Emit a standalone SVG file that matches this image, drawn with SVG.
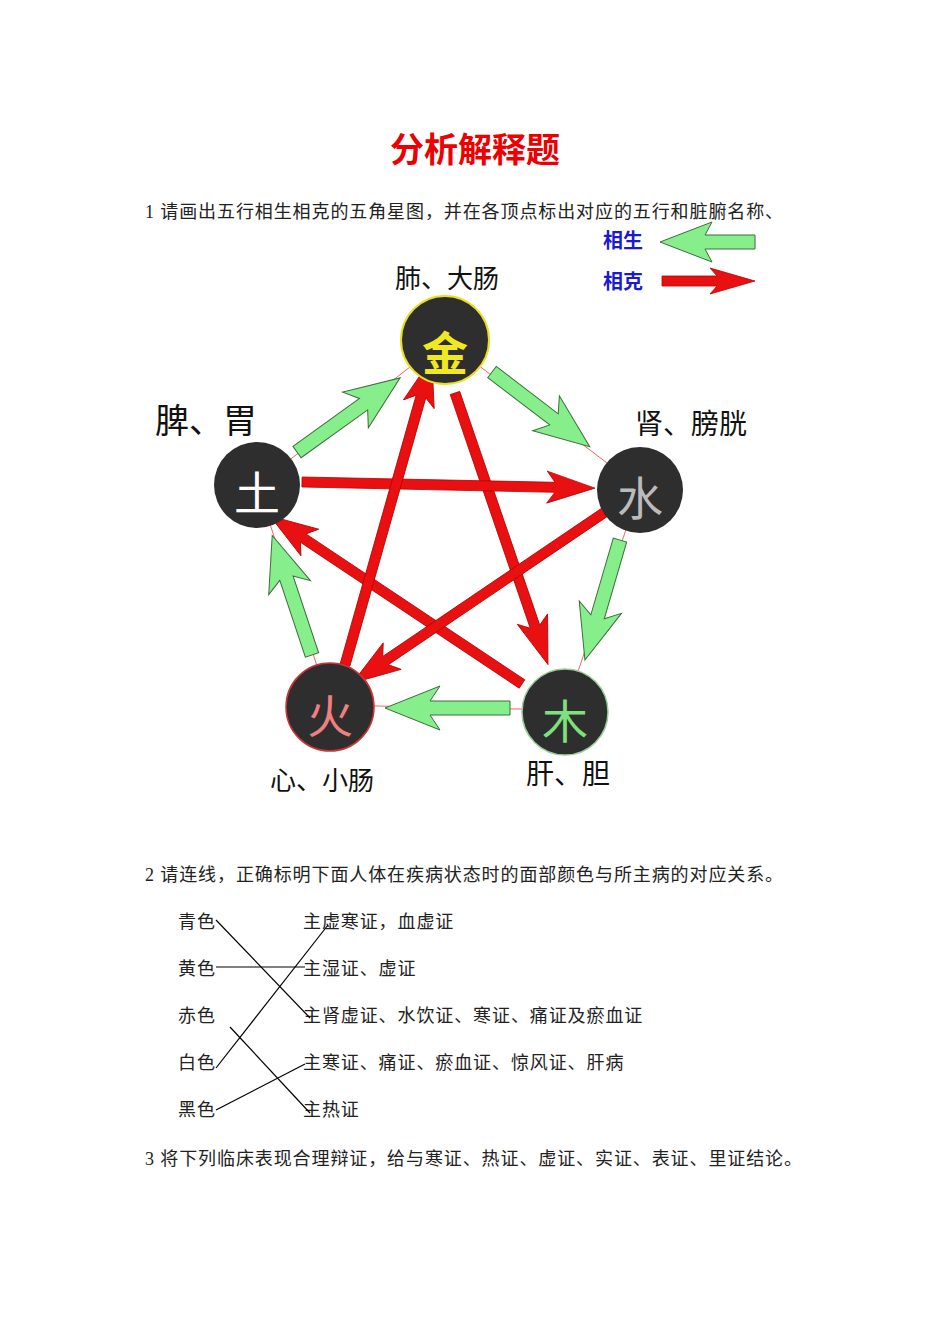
<svg xmlns="http://www.w3.org/2000/svg" width="950" height="1344" viewBox="0 0 950 1344">
<style>
.t{font-family:"Liberation Serif","Noto Sans CJK SC",serif;font-size:18px;letter-spacing:0.9px;fill:#222}
.lab{font-family:"Noto Sans CJK SC",sans-serif;fill:#111;text-anchor:middle}
.el{font-family:"Noto Sans CJK SC",sans-serif;text-anchor:middle;font-size:46px}
.g{fill:#86ef8c;stroke:#3a6e3a;stroke-width:1}
.r{fill:#e81010;stroke:#b00;stroke-width:0.8}
.ln{stroke:#000;stroke-width:1.2;fill:none}
</style>
<rect width="950" height="1344" fill="#fff"/>
<text x="475" y="162" text-anchor="middle" style="font-family:'Liberation Serif','Noto Sans CJK SC',serif;font-size:34px;font-weight:bold;fill:#e00">分析解释题</text>
<text class="t" x="145" y="218">1 请画出五行相生相克的五角星图，并在各顶点标出对应的五行和脏腑名称、</text>
<g id="legend">
<text x="603" y="248" style="font-family:'Noto Sans CJK SC',sans-serif;font-size:20px;font-weight:bold;fill:#1a1ad0">相生</text>
<polygon class="g" transform="translate(755,242) rotate(180)" points="0,-7 50,-7 43,-20 95,0 43,20 50,7 0,7"/>
<text x="603" y="289" style="font-family:'Noto Sans CJK SC',sans-serif;font-size:20px;font-weight:bold;fill:#1a1ad0">相克</text>
<polygon class="r" transform="translate(662,281)" points="0,-5 55,-5 48,-13 93,0 48,13 55,5 0,5"/>
</g>
<polygon points="445,340 640,488 565,710 330,705 257,485" fill="none" stroke="#e66" stroke-width="1"/>
<g id="connectors">
<polygon class="g" transform="translate(297,452) rotate(-35.7)" points="0,-7 82,-7 72,-22 127,0 72,22 82,7 0,7"/>
<polygon class="g" transform="translate(492,372) rotate(37.4)" points="0,-7 78,-7 68,-22 123,0 68,22 78,7 0,7"/>
<polygon class="g" transform="translate(620,540) rotate(106.3)" points="0,-7 80,-7 70,-22 125,0 70,22 80,7 0,7"/>
<polygon class="g" transform="translate(510,708) rotate(180)" points="0,-7 80,-7 70,-22 125,0 70,22 80,7 0,7"/>
<polygon class="g" transform="translate(312,655) rotate(251.6)" points="0,-7 81,-7 71,-22 126,0 71,22 81,7 0,7"/>
<polygon class="r" transform="translate(455,393) rotate(71.1)" points="0,-5 247,-5 239,-16 287,0 239,16 247,5 0,5"/>
<polygon class="r" transform="translate(522,684) rotate(213.7)" points="0,-5 263,-5 255,-16 303,0 255,16 263,5 0,5"/>
<polygon class="r" transform="translate(302,482) rotate(1.2)" points="0,-5 253,-5 245,-16 293,0 245,16 253,5 0,5"/>
<polygon class="r" transform="translate(605,512) rotate(145.9)" points="0,-5 265,-5 257,-16 305,0 257,16 265,5 0,5"/>
<polygon class="r" transform="translate(345,665) rotate(-74.2)" points="0,-5 279,-5 271,-16 319,0 271,16 279,5 0,5"/>
</g>
<g id="jin"><circle cx="445" cy="340" r="44" fill="#2e2e2e" stroke="#e8e020" stroke-width="2"/><text class="el" x="445" y="370" fill="#f0e820" font-weight="bold">金</text><text class="lab" x="447" y="288" font-size="26">肺、大肠</text></g>
<g id="shui"><circle cx="640" cy="490" r="43" fill="#2e2e2e"/><text class="el" x="640" y="515" fill="#bbb">水</text><text class="lab" x="691" y="434" font-size="28">肾、膀胱</text></g>
<g id="mu"><circle cx="565" cy="712" r="43" fill="#2e2e2e" stroke="#9c9" stroke-width="1.5"/><text class="el" x="565" y="738" fill="#7ee07e">木</text><text class="lab" x="568" y="784" font-size="28">肝、胆</text></g>
<g id="huo"><circle cx="330" cy="707" r="44" fill="#2e2e2e" stroke="#c33" stroke-width="1.5"/><text class="el" x="330" y="733" fill="#f08080">火</text><text class="lab" x="322" y="790" font-size="26">心、小肠</text></g>
<g id="tu"><circle cx="257" cy="485" r="43" fill="#2e2e2e"/><text class="el" x="257" y="510" fill="#fff">土</text><text class="lab" x="206" y="433" font-size="34">脾、胃</text></g>
<text class="t" x="145" y="881">2 请连线，正确标明下面人体在疾病状态时的面部颜色与所主病的对应关系。</text>
<g id="match">
<text class="t" x="178" y="928">青色</text><text class="t" x="178" y="975">黄色</text><text class="t" x="178" y="1022">赤色</text><text class="t" x="178" y="1069">白色</text><text class="t" x="178" y="1116">黑色</text>
<text class="t" x="303" y="928">主虚寒证，血虚证</text><text class="t" x="303" y="975">主湿证、虚证</text><text class="t" x="303" y="1022">主肾虚证、水饮证、寒证、痛证及瘀血证</text><text class="t" x="303" y="1069">主寒证、痛证、瘀血证、惊风证、肝病</text><text class="t" x="303" y="1116">主热证</text>
</g>
<g id="lines">
<line class="ln" x1="216" y1="920" x2="310" y2="1018"/>
<line class="ln" x1="216" y1="967" x2="305" y2="967"/>
<line class="ln" x1="216" y1="1068" x2="328" y2="925"/>
<line class="ln" x1="230" y1="1027" x2="310" y2="1113"/>
<line class="ln" x1="216" y1="1110" x2="305" y2="1064"/>
</g>
<text class="t" x="145" y="1165">3 将下列临床表现合理辩证，给与寒证、热证、虚证、实证、表证、里证结论。</text>
</svg>
